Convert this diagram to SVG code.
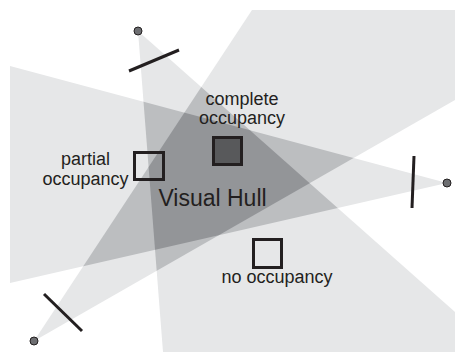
<svg xmlns="http://www.w3.org/2000/svg" width="455" height="352" viewBox="0 0 455 352">
<style>
.l{fill:#e6e7e8}
.m{fill:#bcbec0}
.d{fill:#939598}
.cam{stroke:#231f20;stroke-width:3;fill:none}
.dot{fill:#6d6e71;stroke:#231f20;stroke-width:1}
.box{stroke:#231f20;stroke-width:3}
text{font-family:"Liberation Sans",Arial,sans-serif;fill:#231f20;text-anchor:middle}
.t{font-size:18px}
.h{font-size:23px}
</style>
<defs>
<polygon id="c1" points="138,31 163,352 455,352 455,312"/>
<polygon id="c2" points="447,183 10,66 10,283"/>
<polygon id="c3" points="34,341 252,10 455,10 455,100"/>
<clipPath id="k1"><use href="#c1"/></clipPath>
<clipPath id="k2"><use href="#c2"/></clipPath>
</defs>
<rect width="455" height="352" fill="#ffffff"/>
<g id="cones">
<use href="#c1" class="l"/>
<use href="#c2" class="l"/>
<use href="#c3" class="l"/>
<g clip-path="url(#k1)"><use href="#c2" class="m"/><use href="#c3" class="m"/></g>
<g clip-path="url(#k2)"><use href="#c3" class="m"/></g>
<g clip-path="url(#k1)"><g clip-path="url(#k2)"><use href="#c3" class="d"/></g></g>
</g>
<g id="camera1"><line class="cam" x1="129" y1="71" x2="179" y2="50"/><circle class="dot" cx="138" cy="31" r="4"/></g>
<g id="camera2"><line class="cam" x1="414" y1="156" x2="412" y2="208"/><circle class="dot" cx="447" cy="183" r="4"/></g>
<g id="camera3"><line class="cam" x1="44" y1="294" x2="82" y2="331"/><circle class="dot" cx="34" cy="341" r="4"/></g>
<g id="complete"><rect class="box" x="213.5" y="137.5" width="28" height="27" fill="#58595b"/><text class="t" x="242" y="105">complete</text><text class="t" x="242" y="124">occupancy</text></g>
<g id="partial"><rect class="box" x="134.5" y="152.5" width="29" height="27" fill="none"/><text class="t" x="85.5" y="165">partial</text><text class="t" x="85.5" y="185">occupancy</text></g>
<g id="none"><rect class="box" x="253.5" y="239.5" width="28" height="28" fill="none"/><text class="t" x="277" y="283">no occupancy</text></g>
<g id="hull"><text class="h" x="212.5" y="206">Visual Hull</text></g>
</svg>
